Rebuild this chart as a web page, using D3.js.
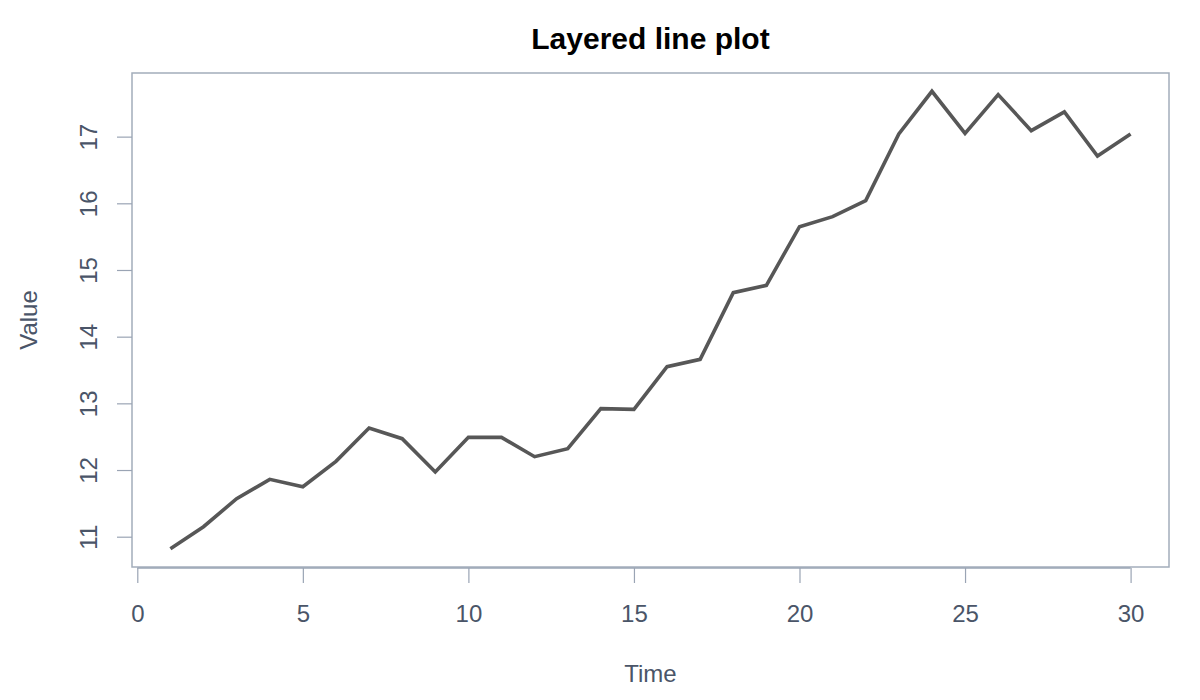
<!DOCTYPE html>
<html lang="en">
<head>
    <meta charset="UTF-8">
    <script src="https://d3js.org/d3.v7.min.js"></script>
    <title>Layered line plot</title>
    <style>
        body {
            margin: 0;
            background: #fff;
        }
        text {
            font-family: "Liberation Sans", Arial, Helvetica, sans-serif;
        }
        .tick text {
            fill: #4a5568;
            font-size: 24px;
        }
        .axis-label {
            fill: #4a5568;
            font-size: 24px;
        }
        .title {
            fill: #000;
            font-size: 30px;
            font-weight: bold;
        }
    </style>
</head>
<body>
    <svg width="1200" height="700"></svg>
    <script>
        // Data
        const time = d3.range(1, 31);
        const values = [
            10.82, 11.15, 11.57, 11.86, 11.75, 12.13, 12.63, 12.47, 11.97, 12.49,
            12.49, 12.20, 12.32, 12.92, 12.91, 13.55, 13.66, 14.66, 14.77, 15.65,
            15.80, 16.04, 17.04, 17.68, 17.05, 17.63, 17.09, 17.37, 16.71, 17.04
        ];
        const xTicks = [0, 5, 10, 15, 20, 25, 30];
        const yTicks = [11, 12, 13, 14, 15, 16, 17];

        const data = time.map((t, i) => ({ t: t, v: values[i] }));

        const width = 1200;
        const height = 700;
        const margin = { top: 73, right: 31, bottom: 133, left: 132 };

        const svg = d3.select("svg");

        // R-style 4% padding around the data range
        const xExt = d3.extent(time);
        const yExt = d3.extent(values);
        const xPad = (xExt[1] - xExt[0]) * 0.04;
        const yPad = (yExt[1] - yExt[0]) * 0.04;

        const x = d3.scaleLinear()
            .domain([xExt[0] - xPad, xExt[1] + xPad])
            .range([margin.left, width - margin.right]);

        const y = d3.scaleLinear()
            .domain([yExt[0] - yPad, yExt[1] + yPad])
            .range([height - margin.bottom, margin.top]);

        const axisColor = "#9aa4b4";

        // Box
        svg.append("rect")
            .attr("x", margin.left)
            .attr("y", margin.top)
            .attr("width", width - margin.left - margin.right)
            .attr("height", height - margin.top - margin.bottom)
            .attr("fill", "none")
            .attr("stroke", "#a3adbb")
            .attr("stroke-width", 1.5);

        // X axis
        const xAxis = svg.append("g")
            .attr("transform", `translate(0,${height - margin.bottom + 1})`)
            .call(d3.axisBottom(x).tickValues(xTicks).tickSize(15).tickPadding(24).tickSizeOuter(0));
        xAxis.select(".domain")
            .attr("d", `M${x(xTicks[0])},0H${x(xTicks[xTicks.length - 1])}`)
            .attr("stroke", axisColor)
            .attr("stroke-width", 1.5);
        xAxis.selectAll(".tick line").attr("stroke", axisColor).attr("stroke-width", 1.2);
        xAxis.selectAll(".tick text").attr("dy", "0").attr("y", 54);

        // Y axis
        const yAxis = svg.append("g")
            .attr("transform", `translate(${margin.left},0)`)
            .call(d3.axisLeft(y).tickValues(yTicks).tickSize(15).tickSizeOuter(0));
        yAxis.select(".domain").remove();
        yAxis.selectAll(".tick line").attr("stroke", axisColor).attr("stroke-width", 1.2);
        yAxis.selectAll(".tick text")
            .attr("x", 0)
            .attr("dy", "0")
            .attr("text-anchor", "middle")
            .attr("transform", "translate(-35,0) rotate(-90)");

        // Line
        const line = d3.line()
            .x(d => x(d.t))
            .y(d => y(d.v));

        svg.append("path")
            .datum(data)
            .attr("d", line)
            .attr("fill", "none")
            .attr("stroke", "#575757")
            .attr("stroke-width", 3.6)
            .attr("stroke-linejoin", "miter")
            .attr("stroke-linecap", "butt");

        // Titles
        const cx = (margin.left + width - margin.right) / 2;
        const cy = (margin.top + height - margin.bottom) / 2;

        svg.append("text")
            .attr("class", "title")
            .attr("x", cx)
            .attr("y", 49)
            .attr("text-anchor", "middle")
            .text("Layered line plot");

        svg.append("text")
            .attr("class", "axis-label")
            .attr("x", cx)
            .attr("y", 682)
            .attr("text-anchor", "middle")
            .text("Time");

        svg.append("text")
            .attr("class", "axis-label")
            .attr("transform", `translate(37,${cy}) rotate(-90)`)
            .attr("text-anchor", "middle")
            .text("Value");
    </script>
</body>
</html>
